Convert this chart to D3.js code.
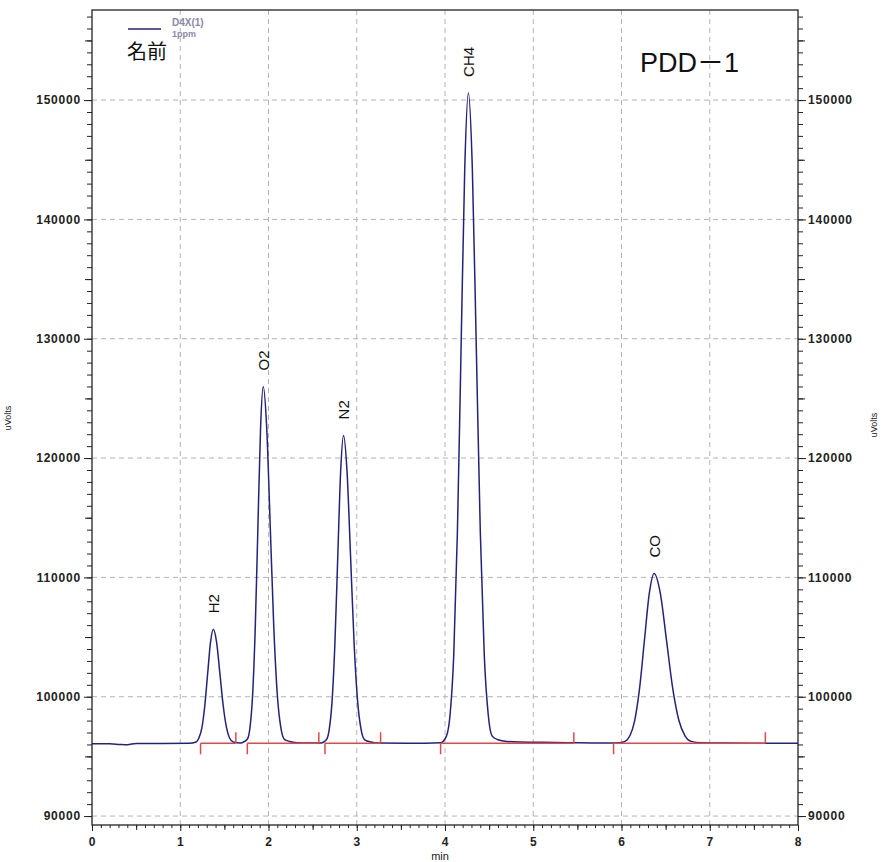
<!DOCTYPE html>
<html lang="ja">
<head>
<meta charset="UTF-8">
<title>PDD-1</title>
<script src="https://d3js.org/d3.v7.min.js"></script>
<style>
  body { margin: 0; background: #fff; }
  svg text { font-family: "Liberation Sans", Arial, sans-serif; }
</style>
</head>
<body>
<div id="chart"></div>
<script>
// detector trace (min, uVolts)
const traceTime = [0.00, 0.20, 0.32, 0.40, 0.50, 0.80, 1.10,
  1.18, 1.21, 1.245, 1.2775, 1.31, 1.3425, 1.375, 1.4125, 1.45, 1.4875, 1.525, 1.56, 1.60, 1.68, 1.70,
  1.76, 1.79, 1.82, 1.85, 1.88, 1.91, 1.94, 1.98, 2.02, 2.06, 2.10, 2.14, 2.18, 2.24, 2.32, 2.45, 2.60,
  2.655, 2.6875, 2.72, 2.7525, 2.785, 2.8175, 2.85, 2.89, 2.93, 2.97, 3.01, 3.05, 3.09, 3.16, 3.25, 3.60,
  3.95, 4.016, 4.0575, 4.099, 4.1405, 4.182, 4.2235, 4.265, 4.31, 4.355, 4.40, 4.445, 4.49, 4.535,
  4.60, 4.70, 4.85, 5.10, 5.40, 5.80,
  5.98, 6.04, 6.095, 6.15, 6.205, 6.26, 6.315, 6.37, 6.44, 6.51, 6.58, 6.65, 6.72, 6.79, 6.90, 7.20, 8.00]
const traceSignal = [96050, 96050, 96000, 95980, 96080, 96080, 96100,
  96210, 96520, 97390, 99200, 101890, 104530, 105650, 104530, 101890, 99200, 97390, 96520, 96210, 96120, 96150,
  96430, 97410, 100150, 105810, 114230, 122490, 126000, 122490, 114230, 105810, 100150, 97410, 96430, 96250, 96150, 96120, 96130,
  96390, 97230, 99590, 104480, 111750, 118870, 121900, 118870, 111750, 104480, 99590, 97230, 96390, 96200, 96120, 96100,
  96150, 96700, 98490, 103470, 113800, 129150, 144200, 150600, 144200, 129150, 113800, 103470, 98490, 96700,
  96400, 96250, 96200, 96180, 96150, 96120,
  96150, 96260, 96725, 98025, 100720, 104730, 108660, 110330, 108660, 104730, 100720, 98025, 96725, 96260, 96150, 96120, 96100]

const peakNames = ["H2", "O2", "N2", "CH4", "CO"]
const peakTimes = [1.375, 1.94, 2.85, 4.265, 6.37]
const peakHeights = [105650, 126000, 121900, 150600, 110330]

// integration events
const peakStarts = [1.23, 1.76, 2.64, 3.95, 5.91]
const peakEnds = [1.63, 2.57, 3.27, 5.46, 7.63]
const baselineLevel = 96100

const xTicks = [0, 1, 2, 3, 4, 5, 6, 7, 8]
const yTicks = [90000, 100000, 110000, 120000, 130000, 140000, 150000]

const width = 883
const height = 862
const margin = {left: 92, right: 85, top: 10, bottom: 37}

const svg = d3.select("#chart").append("svg")
  .attr("width", width)
  .attr("height", height)

const x = d3.scaleLinear().domain([0, 8]).range([margin.left, width - margin.right])
const y = d3.scaleLinear().domain([89250, 157550]).range([height - margin.bottom, margin.top])

// grid
const grid = svg.append("g")
  .attr("stroke", "#b4b4b4")
  .attr("stroke-dasharray", "5,4")
grid.selectAll(".vg").data(xTicks.slice(1, -1)).enter().append("line")
  .attr("x1", d => x(d)).attr("x2", d => x(d))
  .attr("y1", y.range()[1]).attr("y2", y.range()[0])
grid.selectAll(".hg").data(yTicks).enter().append("line")
  .attr("x1", x.range()[0]).attr("x2", x.range()[1])
  .attr("y1", d => y(d)).attr("y2", d => y(d))

// axes
const minorY = d3.range(90000, 157001, 1000)
const midY = minorY.filter(d => d % 5000 === 0 && d % 10000 !== 0)
const minorX = d3.range(0, 80).map(d => d / 10)
const midX = xTicks.slice(0, -1).map(d => d + 0.5)

function styleAxis(g) {
  g.select(".domain").remove()
  g.selectAll("line").attr("stroke", "#222")
  g.selectAll("text").attr("fill", "#222")
    .attr("font-size", 12).attr("font-weight", "bold").attr("letter-spacing", 0.8)
}

svg.append("g").attr("transform", `translate(${x(0)},0)`)
  .call(d3.axisLeft(y).tickValues(minorY).tickSize(5).tickFormat(""))
  .call(styleAxis)
svg.append("g").attr("transform", `translate(${x(0)},0)`)
  .call(d3.axisLeft(y).tickValues(midY).tickSize(7).tickFormat(""))
  .call(styleAxis)
svg.append("g").attr("transform", `translate(${x(0)},0)`)
  .call(d3.axisLeft(y).tickValues(yTicks).tickSize(8).tickPadding(3).tickFormat(d3.format("d")))
  .call(styleAxis)

svg.append("g").attr("transform", `translate(${x(8)},0)`)
  .call(d3.axisRight(y).tickValues(minorY).tickSize(5).tickFormat(""))
  .call(styleAxis)
svg.append("g").attr("transform", `translate(${x(8)},0)`)
  .call(d3.axisRight(y).tickValues(midY).tickSize(7).tickFormat(""))
  .call(styleAxis)
svg.append("g").attr("transform", `translate(${x(8)},0)`)
  .call(d3.axisRight(y).tickValues(yTicks).tickSize(8).tickPadding(2).tickFormat(d3.format("d")))
  .call(styleAxis)

svg.append("g").attr("transform", `translate(0,${y.range()[0]})`)
  .call(d3.axisBottom(x).tickValues(minorX).tickSize(3).tickFormat(""))
  .call(styleAxis)
svg.append("g").attr("transform", `translate(0,${y.range()[0]})`)
  .call(d3.axisBottom(x).tickValues(midX).tickSize(5).tickFormat(""))
  .call(styleAxis)
svg.append("g").attr("transform", `translate(0,${y.range()[0]})`)
  .call(d3.axisBottom(x).tickValues(xTicks).tickSize(6).tickPadding(6).tickFormat(d3.format("d")))
  .call(styleAxis)

// frame
svg.append("rect")
  .attr("x", x.range()[0]).attr("y", y.range()[1])
  .attr("width", x.range()[1] - x.range()[0])
  .attr("height", y.range()[0] - y.range()[1])
  .attr("fill", "none").attr("stroke", "#222").attr("stroke-width", 1.3)

// axis titles
svg.append("text").attr("x", 440).attr("y", 860)
  .attr("text-anchor", "middle").attr("font-size", 11).attr("fill", "#222").text("min")
svg.append("text").attr("transform", "translate(11,418) rotate(-90)")
  .attr("text-anchor", "middle").attr("font-size", 9).attr("fill", "#222").text("uVolts")
svg.append("text").attr("transform", "translate(877,425) rotate(-90)")
  .attr("text-anchor", "middle").attr("font-size", 9).attr("fill", "#222").text("uVolts")

// trace
const trace = traceTime.map((t, i) => ({t: t, v: traceSignal[i]}))
const line = d3.line().x(d => x(d.t)).y(d => y(d.v)).curve(d3.curveMonotoneX)
svg.append("path")
  .attr("d", line(trace))
  .attr("fill", "none")
  .attr("stroke", "#23237a")
  .attr("stroke-width", 1.5)

// integration baseline + event marks
const events = svg.append("g").attr("stroke", "#de4a4a").attr("stroke-width", 1.5)
events.selectAll(".seg").data(peakStarts).enter().append("line")
  .attr("x1", d => x(d)).attr("x2", (d, i) => x(peakEnds[i]))
  .attr("y1", y(baselineLevel)).attr("y2", y(baselineLevel))
events.selectAll(".st").data(peakStarts).enter().append("line")
  .attr("x1", d => x(d)).attr("x2", d => x(d))
  .attr("y1", y(baselineLevel)).attr("y2", y(baselineLevel) + 11)
events.selectAll(".en").data(peakEnds).enter().append("line")
  .attr("x1", d => x(d)).attr("x2", d => x(d))
  .attr("y1", y(baselineLevel)).attr("y2", y(baselineLevel) - 11)

// peak names
svg.selectAll(".pk").data(peakNames).enter().append("text")
  .attr("transform", (d, i) => `translate(${x(peakTimes[i])},${y(peakHeights[i]) - 16}) rotate(-90)`)
  .attr("dy", "0.36em")
  .attr("font-size", 15)
  .attr("fill", "#111")
  .text(d => d)

// legend
svg.append("line").attr("x1", 128).attr("x2", 161).attr("y1", 29).attr("y2", 29)
  .attr("stroke", "#23237a").attr("stroke-width", 1.5)
svg.append("text").attr("x", 172).attr("y", 26).attr("font-size", 10).attr("font-weight", "bold")
  .attr("fill", "#8a8aa6").text("D4X(1)")
svg.append("text").attr("x", 172).attr("y", 37).attr("font-size", 9).attr("font-weight", "bold")
  .attr("fill", "#8a8aa6").text("1ppm")
svg.append("text").attr("x", 127).attr("y", 59).attr("font-size", 20)
  .style("font-family", "'Noto Sans CJK JP', sans-serif").attr("fill", "#111").text("名前")

// sample title
svg.append("text").attr("x", 640).attr("y", 72).attr("font-size", 27)
  .style("font-family", "'Liberation Sans', 'Noto Sans CJK JP', sans-serif")
  .attr("fill", "#111").text("PDD－1")
</script>
</body>
</html>
